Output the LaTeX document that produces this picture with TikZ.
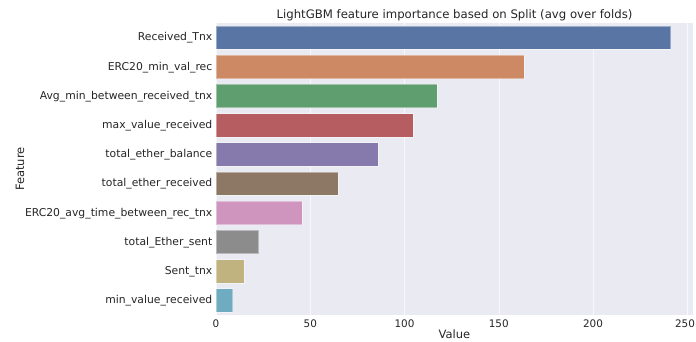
\documentclass[tikz,border=0pt]{standalone}
\usepackage{fontspec}
\setmainfont{DejaVu Sans}
\definecolor{panel}{HTML}{EAEAF2}
\definecolor{txt}{HTML}{262626}
\definecolor{cBlue}{HTML}{5975A4}
\definecolor{cOrange}{HTML}{CC8963}
\definecolor{cGreen}{HTML}{5F9E6E}
\definecolor{cRed}{HTML}{B55D60}
\definecolor{cPurple}{HTML}{857AAB}
\definecolor{cBrown}{HTML}{8D7866}
\definecolor{cPink}{HTML}{D095BF}
\definecolor{cGray}{HTML}{8C8C8C}
\definecolor{cOlive}{HTML}{C1B37F}
\definecolor{cCyan}{HTML}{6FACC1}

\begin{document}
\begin{tikzpicture}[x=1pt, y=-1pt,
	every node/.style={text=txt, font=\fontsize{10.8}{12}\selectfont, inner sep=0pt},
	grid/.style={white, opacity=0.7, line width=0.5pt},
	bar/.style={draw=white, draw opacity=0.4, line width=0.5pt},
	ylab/.style={anchor=east},
	xtick/.style={anchor=center, font=\fontsize{10.4}{12}\selectfont}]
	\useasboundingbox (0,0) rectangle (696,341);
	\fill[white] (0,0) rectangle (696,341);
	\coordinate (NW) at (216,23);
	\coordinate (SE) at (693,315);
	\fill[panel] (NW) rectangle (SE);
	% grid
	\draw[grid] (216,23)--(216,315);
	\draw[grid] (310.25,23)--(310.25,315);
	\draw[grid] (404.5,23)--(404.5,315);
	\draw[grid] (498.75,23)--(498.75,315);
	\draw[grid] (593,23)--(593,315);
	\draw[grid] (687.25,23)--(687.25,315);
	% bars
	\draw[bar, fill=cBlue] (216,25.9) rectangle (670.7,49.3);
	\draw[bar, fill=cOrange] (216,55.1) rectangle (524,78.5);
	\draw[bar, fill=cGreen] (216,84.3) rectangle (437,107.7);
	\draw[bar, fill=cRed] (216,113.5) rectangle (413,136.9);
	\draw[bar, fill=cPurple] (216,142.7) rectangle (378,166.1);
	\draw[bar, fill=cBrown] (216,171.9) rectangle (338,195.3);
	\draw[bar, fill=cPink] (216,201.1) rectangle (302,224.5);
	\draw[bar, fill=cGray] (216,230.3) rectangle (258.7,253.7);
	\draw[bar, fill=cOlive] (216,259.5) rectangle (244,282.9);
	\draw[bar, fill=cCyan] (216,288.7) rectangle (232.7,312.1);
	% category labels
	\node[ylab] (l0) at (212.5,38) {Received\_Tnx};
	\node[ylab] (l1) at (212.5,67.2) {ERC20\_min\_val\_rec};
	\node[ylab] (l2) at (212.5,96.4) {Avg\_min\_between\_received\_tnx};
	\node[ylab] (l3) at (212.5,125.6) {max\_value\_received};
	\node[ylab] (l4) at (212.5,154.8) {total\_ether\_balance};
	\node[ylab] (l5) at (212.5,184) {total\_ether\_received};
	\node[ylab] (l6) at (212.5,213.2) {ERC20\_avg\_time\_between\_rec\_tnx};
	\node[ylab] (l7) at (212.5,242.4) {total\_Ether\_sent};
	\node[ylab] (l8) at (212.5,271.6) {Sent\_tnx};
	\node[ylab] (l9) at (212.5,300.8) {min\_value\_received};
	% value ticks
	\node[xtick] (t0) at (216,323.5) {0};
	\node[xtick] (t50) at (310.25,323.5) {50};
	\node[xtick] (t100) at (404.5,323.5) {100};
	\node[xtick] (t150) at (498.75,323.5) {150};
	\node[xtick] (t200) at (593,323.5) {200};
	\node[xtick] (t250) at (685,323.5) {250};
	% titles
	\node (xlab) at (454.5,334.5) {\fontsize{11.5}{13}\selectfont Value};
	\node[rotate=90] (ylabel) at (20,169) {\fontsize{11.5}{13}\selectfont Feature};
	\node (title) at (454.5,15.5) {\fontsize{11.7}{13}\selectfont LightGBM feature importance based on Split (avg over folds)};
\end{tikzpicture}
\end{document}
